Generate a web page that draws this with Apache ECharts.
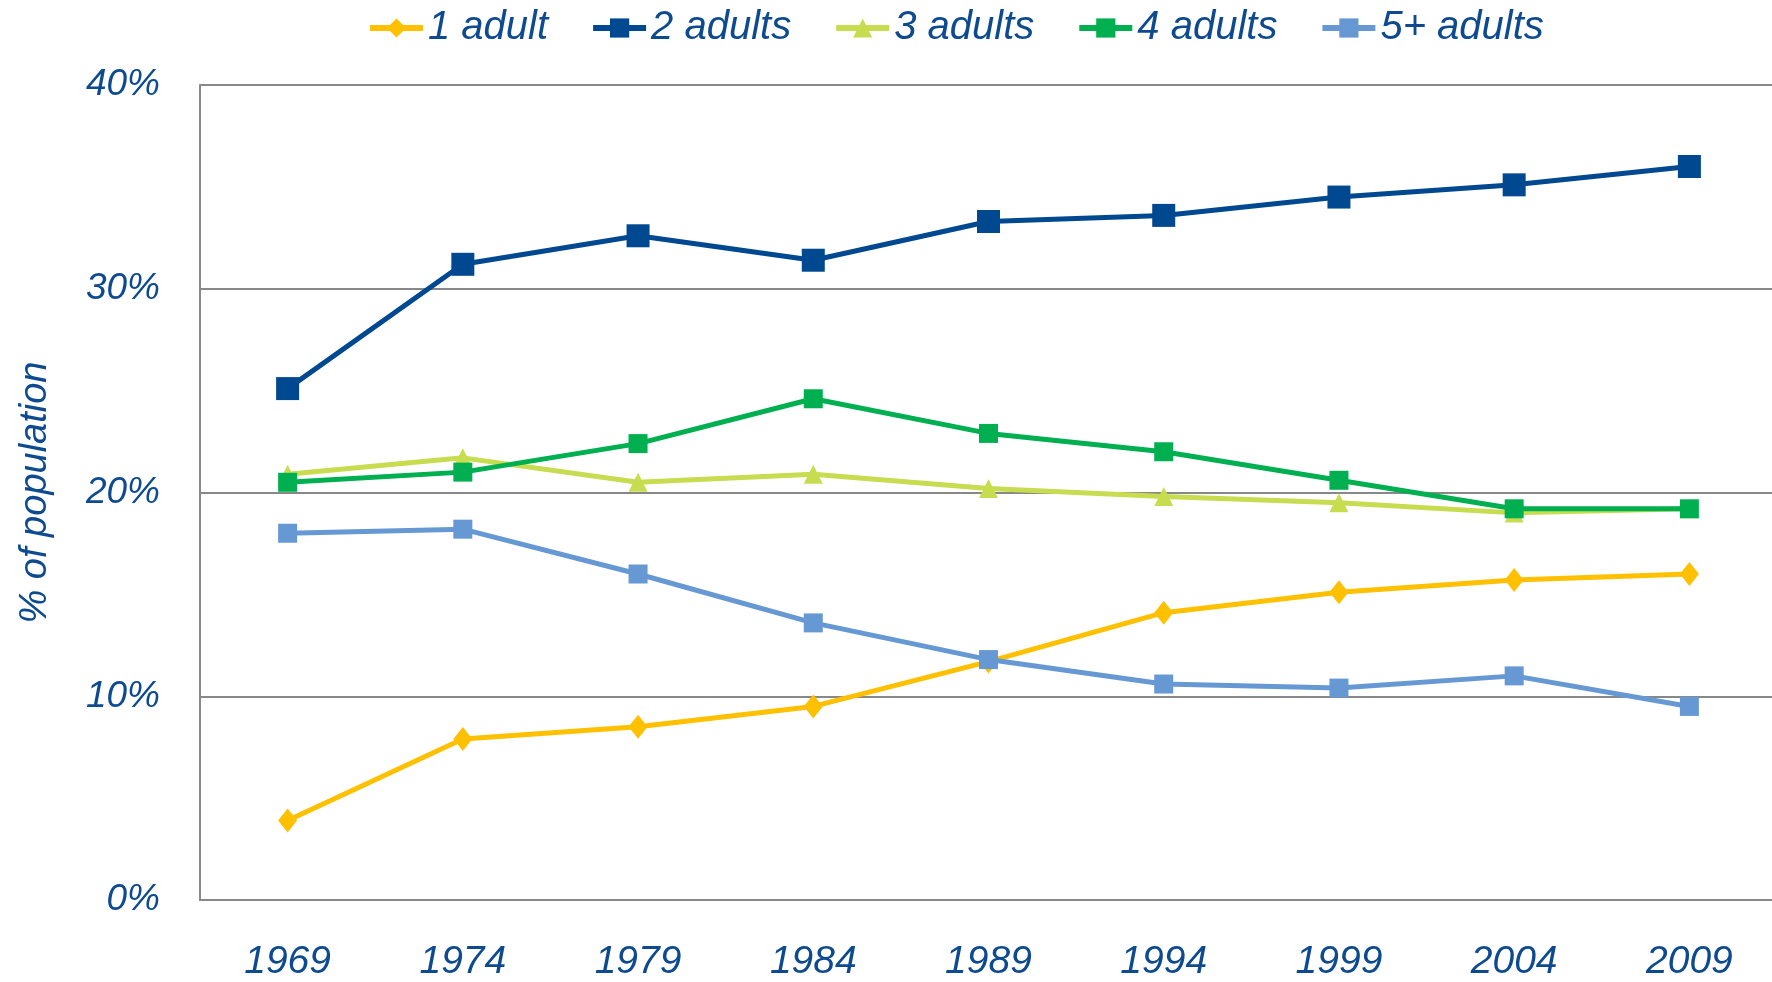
<!DOCTYPE html>
<html>
<head>
<meta charset="utf-8">
<script src="https://cdn.jsdelivr.net/npm/echarts@6/dist/echarts.min.js"></script>
<style>
html,body{margin:0;padding:0;background:#fff;}
#chart{width:1772px;height:982px;}
</style>
</head>
<body>
<div id="chart"></div>
<script>
// years along the x axis
var years = ['1969','1974','1979','1984','1989','1994','1999','2004','2009'];
// share of population (%) by number of adults in household
var oneAdult   = [3.9, 7.9, 8.5, 9.5, 11.7, 14.1, 15.1, 15.7, 16.0];
var twoAdults  = [25.1, 31.2, 32.6, 31.4, 33.3, 33.6, 34.5, 35.1, 36.0];
var threeAdults= [20.9, 21.7, 20.5, 20.9, 20.2, 19.8, 19.5, 19.0, 19.2];
var fourAdults = [20.5, 21.0, 22.4, 24.6, 22.9, 22.0, 20.6, 19.2, 19.2];
var fiveAdults = [18.0, 18.2, 16.0, 13.6, 11.8, 10.6, 10.4, 11.0, 9.5];
var names = ['1 adult','2 adults','3 adults','4 adults','5+ adults'];

var txtColor = '#0d4a8f';
var font = 'Liberation Sans, Arial, sans-serif';

function mkSeries(name,data,color,symbol,size){
	return {
		name:name,
		type:'line',
		data:data,
		symbol:symbol,
		symbolSize:size,
		showSymbol:true,
		lineStyle:{color:color,width:5},
		itemStyle:{color:color},
		emphasis:{disabled:true},
		animation:false
	};
}

var chart = echarts.init(document.getElementById('chart'));
var option = {
	backgroundColor:'#fff',
	legend:{
		top:3,
		left:362,
		itemWidth:53,
		itemHeight:24,
		itemGap:42,
		lineStyle:{width:6},
		textStyle:{fontFamily:font,fontStyle:'italic',fontSize:40,color:txtColor},
		data:names
	},
	grid:{left:200,top:85,bottom:82,width:1577,outerBoundsMode:'none',containLabel:false},
	xAxis:{
		type:'category',
		data:years,
		boundaryGap:true,
		axisLine:{lineStyle:{color:'#888',width:2}},
		axisTick:{show:false},
		axisLabel:{margin:43,fontFamily:font,fontStyle:'italic',fontSize:39,color:txtColor}
	},
	yAxis:{
		type:'value',
		min:0,
		max:40,
		interval:10,
		name:'% of population',
		nameLocation:'middle',
		nameGap:146,
		nameRotate:90,
		nameTextStyle:{fontFamily:font,fontStyle:'italic',fontSize:38,color:txtColor},
		axisLine:{show:true,lineStyle:{color:'#888',width:2}},
		axisTick:{show:false},
		splitLine:{lineStyle:{color:'#888',width:2}},
		axisLabel:{margin:40,fontFamily:font,fontStyle:'italic',fontSize:37,color:txtColor,formatter:'{value}%'}
	},
	series:[
		mkSeries(names[0],oneAdult,'#ffc000','diamond',[19,24]),
		mkSeries(names[1],twoAdults,'#004990','rect',23),
		mkSeries(names[2],threeAdults,'#c8dc50','triangle',19),
		mkSeries(names[3],fourAdults,'#00b050','rect',19),
		mkSeries(names[4],fiveAdults,'#6699d4','rect',19)
	]
};
chart.setOption(option);
</script>
</body>
</html>
